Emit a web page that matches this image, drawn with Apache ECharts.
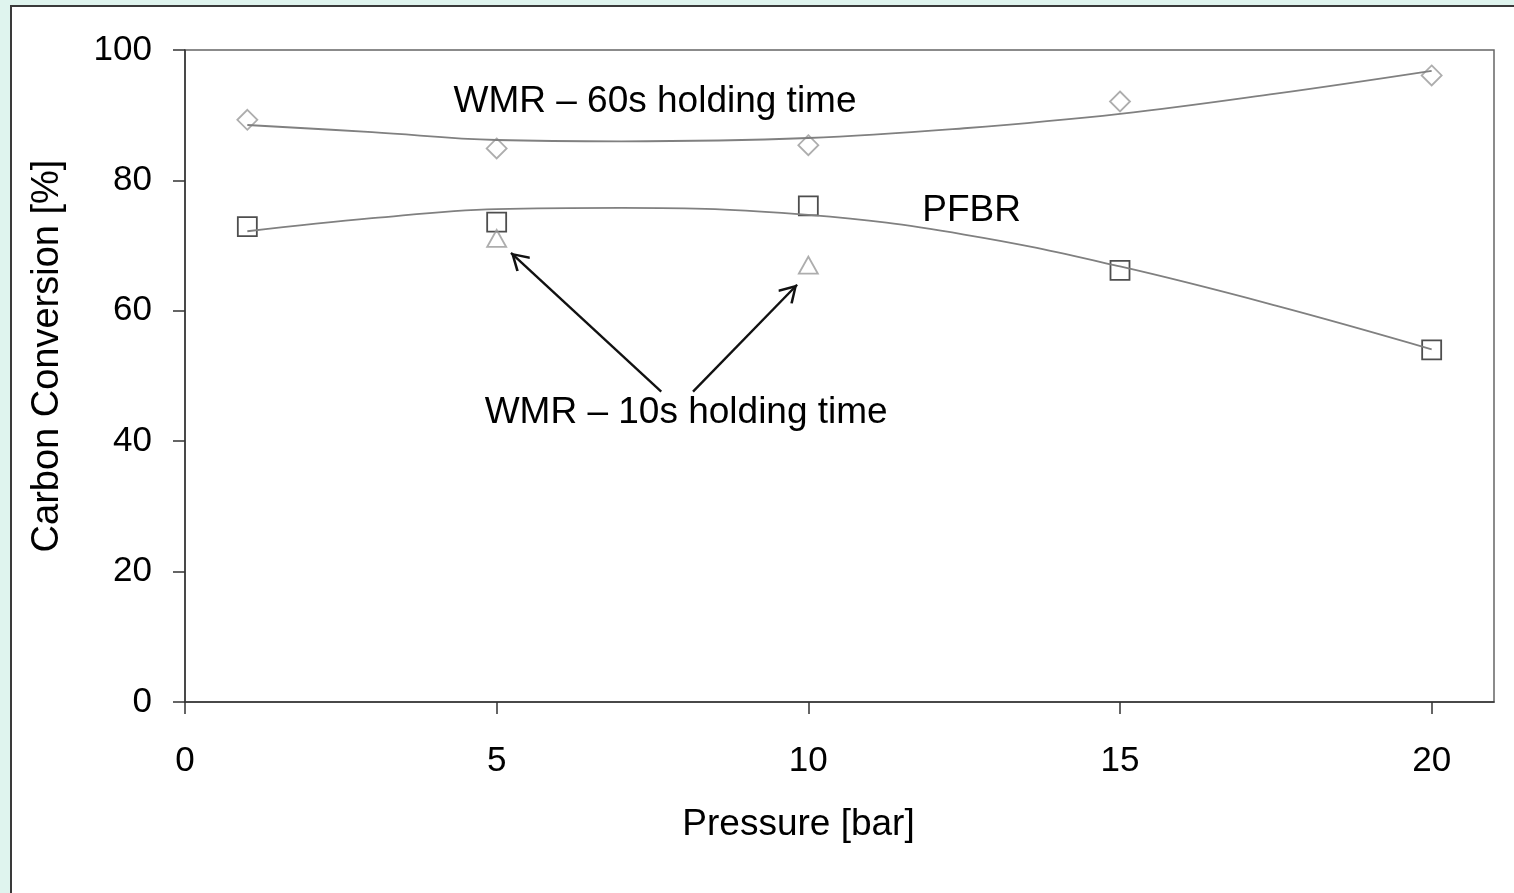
<!DOCTYPE html>
<html>
<head>
<meta charset="utf-8">
<title>Carbon Conversion vs Pressure</title>
<script src="https://cdn.jsdelivr.net/npm/echarts@6/dist/echarts.min.js"></script>
<style>
  html, body { margin: 0; padding: 0; background: #dff4ee; overflow: hidden; }
  #panel { position: absolute; left: 10px; top: 5px; width: 1520px; height: 900px;
           border: 2px solid #3a3a3a; background: #fff; }
  #chart { position: absolute; left: 0; top: 0; width: 1514px; height: 893px; }
</style>
</head>
<body>
<div id="panel"></div>
<div id="chart"></div>
<script>
// 数据点
const wmr60 = [[1, 89.3], [5, 84.9], [10, 85.4], [15, 92.1], [20, 96.1]];
const pfbr = [[1, 72.9], [5, 73.6], [10, 76.1], [15, 66.2], [20, 54.0]];
const wmr10 = [[5, 71.1], [10, 67.0]];

// 趋势线 (沿图中曲线读取)
const trend60 = [[1, 88.5], [3, 87.4], [5, 86.2], [7, 86.0], [10, 86.5], [12.5, 88.0], [15, 90.2], [17.5, 93.3], [20, 96.8]];
const trendPfbr = [[1, 72.2], [3, 74.2], [5, 75.6], [7, 75.8], [10, 74.7], [12.5, 71.7], [15, 66.8], [17.5, 60.8], [20, 54.1]];

const xTicks = [0, 5, 10, 15, 20];

// 注释文字
const noteTexts = ['WMR – 60s holding time', 'PFBR', 'WMR – 10s holding time'];
const notePos = [[7.54, 92.0], [12.62, 75.3], [8.04, 44.4]];

// 箭头 (起点 -> 终点)
const arrows = [
    [[7.64, 47.6], [5.23, 68.9]],
    [[8.15, 47.6], [9.82, 64.0]]
];

const font = 'Liberation Sans, Arial, sans-serif';
const arrowHead = 'path://M7,-13 M0,12 L7,0 L14,12 L12.6,13.2 L7,3.4 L1.4,13.2 Z';

const chart = echarts.init(document.getElementById('chart'));

const option = {
    backgroundColor: 'transparent',
    animation: false,
    grid: {
        left: 185, right: 20, top: 50, bottom: 191,
        show: true, borderColor: '#666', borderWidth: 1.5
    },
    xAxis: {
        type: 'value', min: 0, max: 21, interval: 5,
        name: 'Pressure [bar]', nameLocation: 'middle', nameGap: 104,
        nameTextStyle: { fontSize: 37, fontFamily: font, color: '#000', padding: [0, 82, 0, 0] },
        axisLine: { lineStyle: { color: '#333', width: 1.5 } },
        axisTick: { inside: false, length: 12, customValues: xTicks, lineStyle: { color: '#333', width: 1.5 } },
        axisLabel: { customValues: xTicks, margin: 42, fontSize: 35, fontFamily: font, color: '#000' },
        splitLine: { show: false }
    },
    yAxis: {
        type: 'value', min: 0, max: 100, interval: 20,
        name: 'Carbon Conversion [%]', nameLocation: 'middle', nameGap: 118,
        nameTextStyle: { fontSize: 38, fontFamily: font, color: '#000', padding: [0, 0, 0, 40] },
        axisLine: { show: true, lineStyle: { color: '#333', width: 1.5 } },
        axisTick: { show: true, inside: false, length: 12, lineStyle: { color: '#333', width: 1.5 } },
        axisLabel: { margin: 33, fontSize: 35, fontFamily: font, color: '#000' },
        splitLine: { show: false }
    },
    series: [
        {
            type: 'line', data: trend60, smooth: 0.4, showSymbol: false, silent: true,
            lineStyle: { color: '#808080', width: 1.8 },
            markPoint: {
                symbol: 'circle', symbolSize: 0, silent: true,
                label: { show: true, position: 'inside', formatter: '{b}', fontSize: 37, fontFamily: font, color: '#000' },
                data: noteTexts.map((t, i) => ({ name: t, coord: notePos[i] }))
            }
        },
        {
            type: 'line', data: trendPfbr, smooth: 0.4, showSymbol: false, silent: true,
            lineStyle: { color: '#808080', width: 1.8 }
        },
        {
            type: 'scatter', data: wmr60, symbol: 'diamond', symbolSize: [20, 20],
            itemStyle: { color: 'transparent', borderColor: '#999', borderWidth: 1.8 }
        },
        {
            type: 'scatter', data: pfbr, symbol: 'rect', symbolSize: [19, 19],
            itemStyle: { color: 'transparent', borderColor: '#222', borderWidth: 1.8 }
        },
        {
            type: 'scatter', data: wmr10, symbol: 'triangle', symbolSize: [19, 17],
            itemStyle: { color: 'transparent', borderColor: '#999', borderWidth: 1.8 },
            markLine: {
                silent: true,
                symbol: ['none', arrowHead],
                symbolSize: [20, 36],
                label: { show: false },
                lineStyle: { color: '#111', width: 2.4, type: 'solid' },
                data: arrows.map(a => [{ coord: a[0] }, { coord: a[1] }])
            }
        }
    ]
};

chart.setOption(option);
</script>
</body>
</html>
